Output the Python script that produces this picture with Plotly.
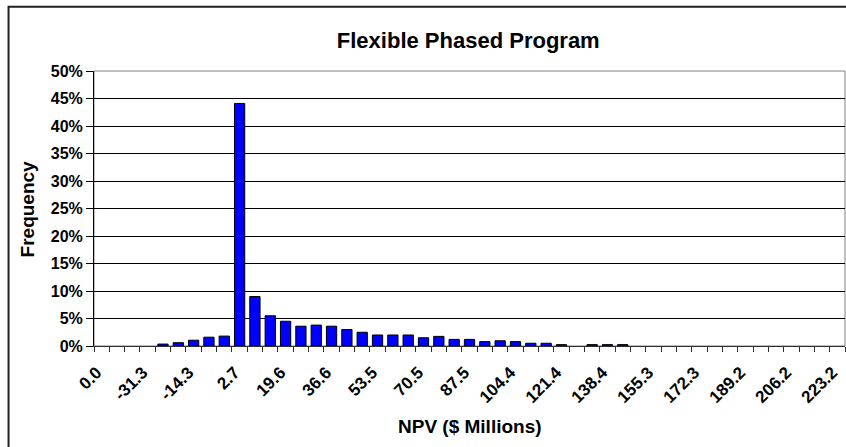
import plotly.graph_objects as go

# NPV bins ($ millions); the first bin is the zero-outcome bucket
bins = ["0.0", "-42.6", "-37.0", "-31.3", "-25.6", "-20.0", "-14.3", "-8.6", "-3.0",
        "2.7", "8.3", "14.0", "19.6", "25.3", "31.0", "36.6", "42.3", "47.9",
        "53.5", "59.2", "64.9", "70.5", "76.2", "81.8", "87.5", "93.1", "98.8",
        "104.4", "110.1", "115.8", "121.4", "127.1", "132.7", "138.4", "144.0", "149.7",
        "155.3", "161.0", "166.6", "172.3", "177.9", "183.6", "189.2", "194.9", "200.5",
        "206.2", "211.8", "217.5", "223.2"]

# relative frequency of each bin
freq = [0.0, 0.0, 0.0, 0.0, 0.0035, 0.006, 0.0105, 0.016, 0.018,
        0.441, 0.090, 0.055, 0.045, 0.036, 0.038, 0.036, 0.030, 0.025,
        0.020, 0.020, 0.020, 0.015, 0.0175, 0.012, 0.012, 0.008, 0.0095,
        0.008, 0.005, 0.005, 0.0025, 0.0, 0.0025, 0.0025, 0.0025, 0.0,
        0.0, 0.0, 0.0, 0.0, 0.0, 0.0, 0.0, 0.0, 0.0,
        0.0, 0.0, 0.0, 0.0]

pos = list(range(len(bins)))
label_every = 3

FONT = "Arial, Liberation Sans, sans-serif"

# empty bins get no outline so they stay invisible on the baseline
outline = [1 if v > 0 else 0 for v in freq]

fig = go.Figure(go.Bar(
    x=pos, y=freq,
    marker=dict(color="#0000FF", line=dict(color="black", width=outline)),
))

fig.update_layout(
    width=846, height=447,
    margin=dict(l=94, r=1, t=71, b=101),
    paper_bgcolor="white", plot_bgcolor="white",
    bargap=0.33,
    showlegend=False,
    font=dict(family=FONT, color="black"),
    title=dict(text="Flexible Phased Program", x=0.5535, xanchor="center",
               y=0.91, yanchor="middle",
               font=dict(family=FONT, size=22, weight="bold", color="black")),
)

fig.update_xaxes(
    range=[-0.5, len(bins) - 0.5],
    tickmode="array", tickvals=pos[::label_every], ticktext=bins[::label_every],
    tickangle=-45, ticks="", ticklabelstandoff=9, ticklabelshift=-5,
    tickfont=dict(family=FONT, size=17, weight="bold", color="black"),
    showline=True, linecolor="#303030", linewidth=1,
    showgrid=False, zeroline=False,
    minor=dict(ticks="outside", tickmode="linear", tick0=-0.5, dtick=1,
               ticklen=5, tickcolor="#303030", showgrid=False),
)

fig.update_yaxes(
    range=[0, 0.5], dtick=0.05, tickformat=".0%",
    ticks="outside", ticklen=7, tickcolor="black",
    tickfont=dict(family=FONT, size=16, weight="bold", color="black"),
    showline=True, linecolor="black", linewidth=1,
    showgrid=True, gridcolor="black", gridwidth=1, zeroline=False,
)

# plot-area frame and chart-area frame
fig.add_shape(type="rect", xref="paper", yref="paper", x0=0, x1=1, y0=0, y1=1,
              line=dict(color="#808080", width=1), layer="below")
fig.add_shape(type="rect", xref="paper", yref="paper",
              x0=-0.1138, x1=1.02, y0=-0.45, y1=1.2335,
              line=dict(color="#202020", width=2), layer="above")

fig.add_annotation(text="NPV ($ Millions)", xref="paper", yref="paper",
                   x=0.5, y=-0.293, xanchor="center", yanchor="middle",
                   showarrow=False,
                   font=dict(family=FONT, size=19, weight="bold", color="black"))
fig.add_annotation(text="Frequency", xref="paper", yref="paper",
                   x=-0.088, y=0.5, xanchor="center", yanchor="middle",
                   textangle=-90, showarrow=False,
                   font=dict(family=FONT, size=19, weight="bold", color="black"))

fig.write_html("out.html")
